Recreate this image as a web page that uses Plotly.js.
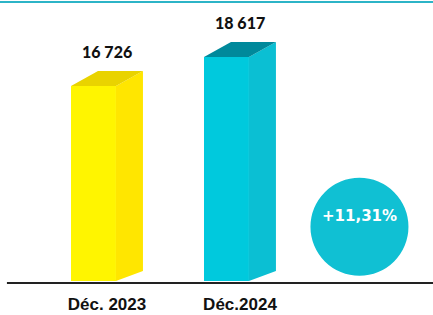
<!DOCTYPE html>
<html><head><meta charset="utf-8">
<script src="https://cdn.plot.ly/plotly-3.0.1.min.js"></script>
<style>html,body{margin:0;padding:0;background:#fff}#chart{width:433px;height:315px}</style>
</head><body><div id="chart"></div>
<script>
const categories = ['Déc. 2023', 'Déc.2024'];
const values = [16726, 18617];
const frontColors = ['#fff500', '#00c9dd'];
const sideColors = ['#ffe600', '#0bbfd3'];
const topColors = ['#e9d300', '#00899b'];
const circleColor = '#10c0d3';

// geometry (style constants)
const barW = 0.338, depthX = 0.203, depthTop = 980, depthBot = 650;
const yMin = 4000, yMax = 21680;

const fmt = v => String(v).replace(/\B(?=(\d{3})+(?!\d))/g, ' ');
const pct = '+' + ((values[1] / values[0] - 1) * 100).toFixed(2).replace('.', ',') + '%';

const xs = categories.map((c, i) => i);
const traces = [];
traces.push({type: 'bar', x: xs, y: values, width: barW, marker: {color: frontColors, line: {width: 0}}, hoverinfo: 'skip', showlegend: false});
xs.forEach((x, i) => {
  const v = values[i];
  const l = x - barW / 2, r = x + barW / 2;
  traces.push({type: 'scatter', mode: 'lines', x: [r, r, r + depthX, r + depthX, r], y: [0, v, v + depthTop, yMin + depthBot, yMin],
    fill: 'toself', fillcolor: sideColors[i], line: {width: 0, color: sideColors[i]}, hoverinfo: 'skip', showlegend: false});
  traces.push({type: 'scatter', mode: 'lines', x: [l, r, r + depthX, l + depthX, l], y: [v, v, v + depthTop, v + depthTop, v],
    fill: 'toself', fillcolor: topColors[i], line: {width: 0, color: topColors[i]}, hoverinfo: 'skip', showlegend: false});
});

const annotations = xs.map((x, i) => ({
  x: x + depthX / 2, y: values[i] + depthTop, xref: 'x', yref: 'y', text: fmt(values[i]), showarrow: false,
  yanchor: 'bottom', yshift: 8, font: {family: 'Lato, DejaVu Sans, sans-serif', size: 16, color: '#111', weight: 900}
}));
annotations.push({x: 2, y: 0.2, xref: 'x', yref: 'paper', text: '<b>' + pct + '</b>', showarrow: false,
  font: {family: 'DejaVu Sans, sans-serif', size: 15, color: '#fff'}});

const layout = {
  width: 433, height: 315,
  margin: {l: 0, r: 0, t: 10, b: 34, pad: 0},
  paper_bgcolor: '#fff', plot_bgcolor: '#fff',
  showlegend: false, barmode: 'overlay',
  xaxis: {range: [-0.703, 2.553], showgrid: false, zeroline: false, showline: false, ticks: '',
    tickmode: 'array', tickvals: xs.map(x => x + depthX / 2), ticktext: categories,
    tickfont: {family: 'Liberation Sans, Arial, sans-serif', size: 17, color: '#111', weight: 'bold'}, ticklabelstandoff: 11, fixedrange: true},
  yaxis: {range: [yMin, yMax], visible: false, showgrid: false, zeroline: false, fixedrange: true},
  shapes: [
    {type: 'line', xref: 'paper', yref: 'paper', x0: 0, x1: 1, y0: 1.0295, y1: 1.0295, line: {color: '#2cb4c7', width: 2}},
    {type: 'line', xref: 'paper', yref: 'paper', x0: 0.016, x1: 1, y0: -0.0074, y1: -0.0074, line: {color: '#222', width: 2}, layer: 'above'},
    {type: 'circle', xref: 'x', yref: 'paper', xsizemode: 'pixel', ysizemode: 'pixel', xanchor: 2, yanchor: 0.2,
      x0: -49, x1: 49, y0: -49, y1: 49, fillcolor: circleColor, line: {width: 0}, layer: 'below'}
  ],
  annotations: annotations
};
Plotly.newPlot('chart', traces, layout, {displayModeBar: false, staticPlot: true});
</script></body></html>
